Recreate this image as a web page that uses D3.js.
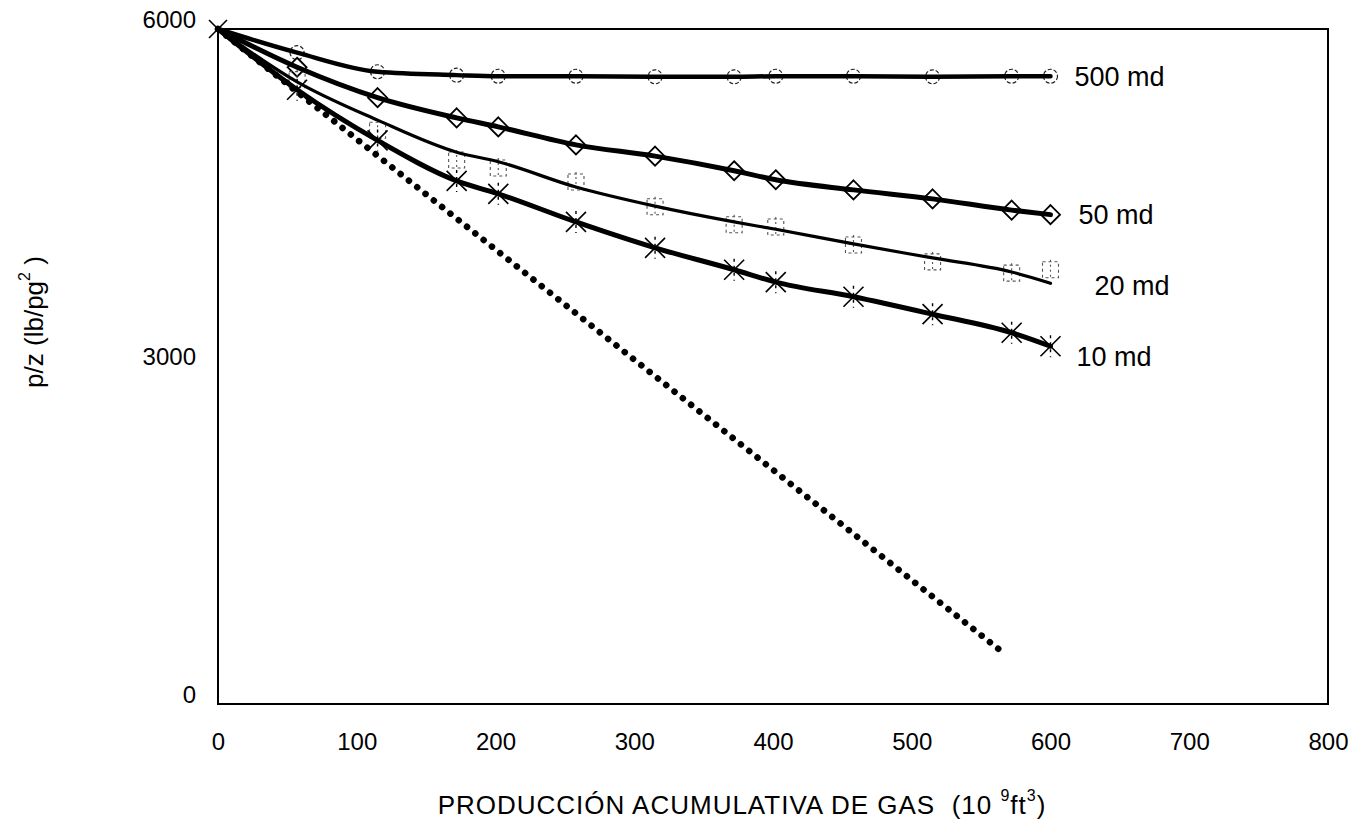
<!DOCTYPE html>
<html>
<head>
<meta charset="utf-8">
<script src="https://cdn.jsdelivr.net/npm/d3@7"></script>
<style>
  body { margin: 0; background: #fff; }
  text { font-family: Arial, 'Liberation Sans', sans-serif; fill: #000; }
</style>
</head>
<body>
<div id="chart"></div>
<script>
// cumulative gas produced (10^9 ft3)
const production = [0, 57, 115, 172, 202, 258, 315, 372, 402, 458, 515, 572, 600];

// p/z (lb/pg2) per permeability
const pz500 = [6000, 5790, 5620, 5590, 5580, 5580, 5575, 5575, 5580, 5580, 5575, 5580, 5580];
const pz50 = [6000, 5660, 5390, 5210, 5130, 4970, 4870, 4740, 4660, 4570, 4490, 4390, 4350];
const pz20Line = [6000, 5530, 5190, 4905, 4820, 4595, 4425, 4285, 4220, 4090, 3965, 3840, 3740];
const pz20Points = [6000, 5550, 5100, 4835, 4765, 4640, 4420, 4260, 4240, 4080, 3930, 3830, 3860];
const pz10 = [6000, 5460, 5010, 4650, 4535, 4285, 4055, 3860, 3750, 3620, 3465, 3300, 3180];

// volumetric (no water drive) straight line
const volumetricX = [0, 567];
const volumetricY = [6000, 445];

const xTicks = [0, 100, 200, 300, 400, 500, 600, 700, 800];
const yTicks = [0, 3000, 6000];

const curveLabels = [
  { text: '500 md', values: pz500, dx: 24, dy: 0 },
  { text: '50 md', values: pz50, dx: 28, dy: 0 },
  { text: '20 md', values: pz20Line, dx: 44, dy: 2 },
  { text: '10 md', values: pz10, dx: 26, dy: 10 }
];

const width = 1354;
const height = 827;

const svg = d3.select('#chart')
  .append('svg')
  .attr('width', width)
  .attr('height', height);

const x = d3.scaleLinear().domain([0, 800]).range([218, 1328]);
const y = d3.scaleLinear().domain([0, 6000]).range([704, 29]);

// frame
svg.append('rect')
  .attr('x', x(0))
  .attr('y', y(6000))
  .attr('width', x(800) - x(0))
  .attr('height', y(0) - y(6000))
  .attr('fill', 'none')
  .attr('stroke', '#000')
  .attr('stroke-width', 2);

// axes, labels only
const xAxis = svg.append('g')
  .attr('transform', `translate(0,${y(0)})`)
  .call(d3.axisBottom(x).tickValues(xTicks).tickSize(0).tickPadding(29).tickFormat(d3.format('d')));
xAxis.select('.domain').remove();
xAxis.selectAll('text')
  .style('font-size', '24px')
  .style('font-family', 'Arial, "Liberation Sans", sans-serif');

const yAxis = svg.append('g')
  .attr('transform', `translate(${x(0)},0)`)
  .call(d3.axisLeft(y).tickValues(yTicks).tickSize(0).tickPadding(22).tickFormat(d3.format('d')));
yAxis.select('.domain').remove();
yAxis.selectAll('text')
  .attr('dy', '-0.08em')
  .style('font-size', '24px')
  .style('font-family', 'Arial, "Liberation Sans", sans-serif');

// titles
const xTitle = svg.append('text')
  .attr('x', 742)
  .attr('y', 814)
  .attr('text-anchor', 'middle')
  .attr('xml:space', 'preserve')
  .style('font-size', '26px')
  .style('letter-spacing', '1px')
  .style('white-space', 'pre');
xTitle.append('tspan').text('PRODUCCIÓN ACUMULATIVA DE GAS  (10 ');
xTitle.append('tspan').attr('dy', -13).style('font-size', '16px').text('9');
xTitle.append('tspan').attr('dy', 13).text('ft');
xTitle.append('tspan').attr('dy', -13).style('font-size', '16px').text('3');
xTitle.append('tspan').attr('dy', 13).text(')');

const yTitle = svg.append('text')
  .attr('transform', 'translate(43,322) rotate(-90)')
  .attr('text-anchor', 'middle')
  .style('font-size', '26px');
yTitle.append('tspan').text('p/z (lb/pg');
yTitle.append('tspan').attr('dy', -13).style('font-size', '16px').text('2');
yTitle.append('tspan').attr('dy', 13).text(' )');

const plot = svg.append('g');

// volumetric dotted line
plot.append('path')
  .datum(volumetricX.map((d, i) => [d, volumetricY[i]]))
  .attr('d', d3.line().x(d => x(d[0])).y(d => y(d[1])))
  .attr('fill', 'none')
  .attr('stroke', '#000')
  .attr('stroke-width', 6.5)
  .attr('stroke-linecap', 'round')
  .attr('stroke-dasharray', '0.1,10.5');

const line = d3.line()
  .curve(d3.curveMonotoneX)
  .x(d => x(d[0]))
  .y(d => y(d[1]));

const pairs = values => production.map((d, i) => [d, values[i]]);

// markers first, lines over them
const diamond = d3.symbol().type(d3.symbolDiamond2).size(230);

plot.selectAll('.m500')
  .data(pairs(pz500).slice(1))
  .join('circle')
  .attr('cx', d => x(d[0]))
  .attr('cy', d => y(d[1]))
  .attr('r', 7)
  .attr('fill', 'none')
  .attr('stroke', '#222')
  .attr('stroke-width', 1.2)
  .attr('stroke-dasharray', '4,2');

plot.selectAll('.m50')
  .data(pairs(pz50).slice(1))
  .join('path')
  .attr('transform', d => `translate(${x(d[0])},${y(d[1])})`)
  .attr('d', diamond)
  .attr('fill', '#fff')
  .attr('stroke', '#000')
  .attr('stroke-width', 1.8);

const m20 = plot.selectAll('.m20')
  .data(pairs(pz20Points).slice(1))
  .join('g')
  .attr('transform', d => `translate(${x(d[0])},${y(d[1])})`);
m20.append('rect')
  .attr('x', -8).attr('y', -8)
  .attr('width', 16).attr('height', 16)
  .attr('fill', 'none')
  .attr('stroke', '#555')
  .attr('stroke-width', 1.1)
  .attr('stroke-dasharray', '3,3');
m20.append('path')
  .attr('d', 'M0,-10V10')
  .attr('stroke', '#555')
  .attr('stroke-width', 1.1)
  .attr('stroke-dasharray', '2,3');

const m10 = plot.selectAll('.m10')
  .data(pairs(pz10).slice(1))
  .join('g')
  .attr('transform', d => `translate(${x(d[0])},${y(d[1])})`);
m10.append('path')
  .attr('d', 'M-10,-10L10,10M-10,10L10,-10')
  .attr('stroke', '#000')
  .attr('stroke-width', 1.6);
m10.append('path')
  .attr('d', 'M0,-11V11')
  .attr('stroke', '#000')
  .attr('stroke-width', 1.4)
  .attr('stroke-dasharray', '3,4');

// x marker at origin
plot.append('path')
  .attr('transform', `translate(${x(0)},${y(6000)})`)
  .attr('d', 'M-9,-9L9,9M-9,9L9,-9')
  .attr('stroke', '#000')
  .attr('stroke-width', 1.6);

// curves
[
  { values: pz500, w: 4.5 },
  { values: pz50, w: 5 },
  { values: pz20Line, w: 3.2 },
  { values: pz10, w: 5 }
].forEach(s => {
  plot.append('path')
    .datum(pairs(s.values))
    .attr('d', line)
    .attr('fill', 'none')
    .attr('stroke', '#000')
    .attr('stroke-width', s.w)
    .attr('stroke-linejoin', 'round')
    .attr('stroke-linecap', 'round');
});

// curve labels
svg.selectAll('.curve-label')
  .data(curveLabels)
  .join('text')
  .attr('x', d => x(production[production.length - 1]) + d.dx)
  .attr('y', d => y(d.values[d.values.length - 1]) + d.dy)
  .attr('dy', '0.35em')
  .style('font-size', '27px')
  .text(d => d.text);
</script>
</body>
</html>
